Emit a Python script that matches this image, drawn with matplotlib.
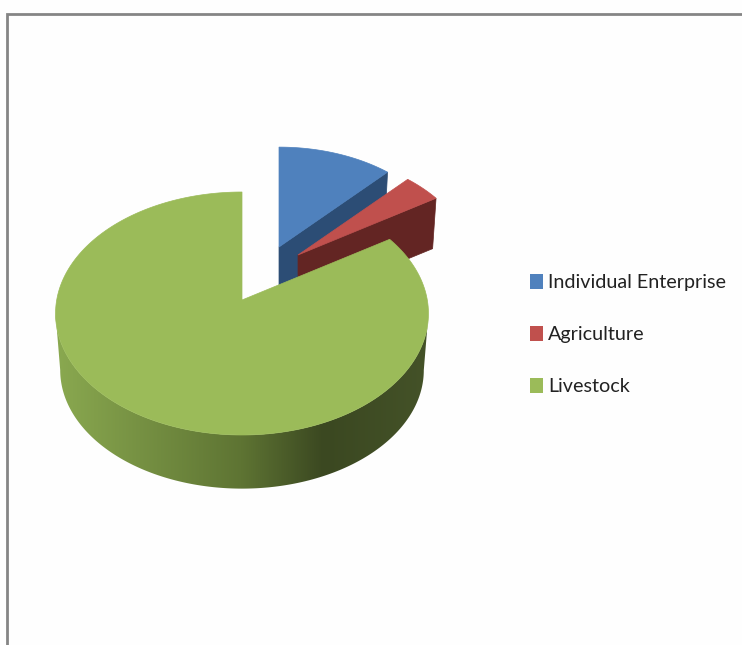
import numpy as np
import matplotlib
matplotlib.use("Agg")
import matplotlib.pyplot as plt
from matplotlib.colors import LinearSegmentedColormap
from matplotlib.patches import Patch, Polygon

categories = ["Individual Enterprise", "Agriculture", "Livestock"]
values = [12, 4, 84]
top_colors = ["#4F81BD", "#C0504D", "#9BBB59"]
wall_colors = ["#2C4D75", "#632523", "#3C4A22"]

# Pie centres (in pixels), scale and wall height per slice; the two small slices are pulled out.
apexes = [(279, 247), (298, 255), (242, 300)]
scales = [0.925, 0.935, 1.0]
depths = [52.0, 49.0, 57.0]

RADIUS = 185.3
TILT_A = 120.0
TILT_B = 1.0 / 9.0
FLOOR_SCALE = 0.975

shade = LinearSegmentedColormap.from_list(
    "rim", [(0.0, "#8AA950"), (0.5, "#5E7433"), (0.72, "#3B4821"), (1.0, "#445228")]
)


def project(theta):
    """Map clockwise-from-north angles on the unit disc to pixel offsets with perspective."""
    u, v = np.sin(theta), np.cos(theta)
    w = 1 + TILT_B * v
    return RADIUS * u / w, -TILT_A * v / w


def top_rim(theta, apex, s):
    dx, dy = project(theta)
    return apex[0] + s * dx, apex[1] + s * dy


def floor_rim(theta, apex, s, depth):
    dx, dy = project(theta)
    return apex[0] + s * FLOOR_SCALE * dx, apex[1] + depth + s * FLOOR_SCALE * dy


fig = plt.figure(figsize=(7.42, 6.45), dpi=100, facecolor="#FEFEFE")
ax = fig.add_axes([0, 0, 1, 1])
ax.set_xlim(0, 742)
ax.set_ylim(645, 0)
ax.axis("off")

# Chart frame: only the top and left edges fall inside the canvas.
ax.plot([7, 7, 742], [645, 13.5, 13.5], color="#858585", lw=2.0, solid_joinstyle="miter")

edges = np.deg2rad(np.cumsum([0] + values) * 3.6)

for i in range(len(values)):
    start, end = edges[i], edges[i + 1]
    apex, s, depth = apexes[i], scales[i], depths[i]
    theta = np.linspace(start, end, 240)
    rx, ry = top_rim(theta, apex, s)
    z = 2 + i

    if i < 2:
        # Exposed cut face on the clockwise side of a pulled-out slice.
        ex, ey = top_rim(end, apex, s)
        fx, fy = floor_rim(end, apex, s, depth)
        bx, by = apex[0], apex[1] + depth
        ax.add_patch(Polygon([apex, (ex, ey), (fx, fy), (bx, by)], closed=True,
                             facecolor=wall_colors[i], edgecolor=wall_colors[i], lw=0.5, zorder=z))
    else:
        # Visible front of the rim, between the two widest points of the ellipse,
        # filled with a left-to-right gradient clipped to the wall outline.
        widest = np.arccos(-TILT_B)
        front = np.linspace(widest, 2 * np.pi - widest, 240)
        wx, wy = top_rim(front, apex, s)
        fx, fy = floor_rim(front, apex, s, depth)
        wall = Polygon(np.column_stack([np.r_[wx, fx[::-1]], np.r_[wy, fy[::-1]]]),
                       closed=True, facecolor="none", edgecolor="none", transform=ax.transData)
        ax.add_patch(wall)
        ramp = np.linspace(0, 1, 512).reshape(1, -1)
        image = ax.imshow(ramp, cmap=shade, extent=(55, 428, 500, 180), aspect="auto", zorder=z,
                          interpolation="bilinear")
        image.set_clip_path(wall)

    outline = np.column_stack([np.r_[apex[0], rx], np.r_[apex[1], ry]])
    ax.add_patch(Polygon(outline, closed=True, facecolor=top_colors[i],
                         edgecolor=top_colors[i], lw=0.5, zorder=z + 0.5))

ax.set_xlim(0, 742)
ax.set_ylim(645, 0)

handles = [Patch(facecolor=c, edgecolor="none", label=n) for c, n in zip(top_colors, categories)]
ax.legend(
    handles=handles, loc="upper left", bbox_to_anchor=(530 / 742, 1 - 274 / 645),
    frameon=False, prop={"family": ["Lato", "Liberation Sans"], "size": 14.2},
    labelspacing=1.74, handlelength=0.66, handleheight=0.81, handletextpad=0.25, borderpad=0,
    borderaxespad=0, labelcolor="#222222",
)

fig.savefig("out.png", dpi=100, facecolor=fig.get_facecolor())
